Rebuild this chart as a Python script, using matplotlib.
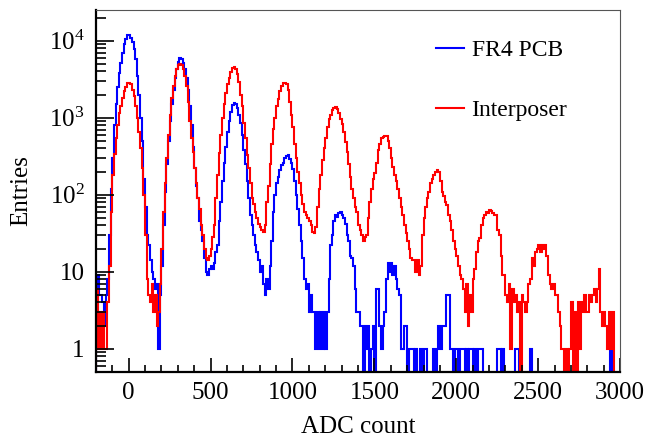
import numpy as np
import matplotlib
matplotlib.use("Agg")
import matplotlib.pyplot as plt
from matplotlib.ticker import FixedLocator, MultipleLocator, NullFormatter

# histogram binning: 320 bins of 10 ADC from -200 to 3000
edges = np.linspace(-200, 3000, 321)

# one row = 32 bins = 320 ADC counts
fr4_pcb = [
    3, 9, 5, 5, 4, 2, 5, 8, 30, 120, 300, 800, 1500, 2500, 3800, 5200,
    7000, 9000, 10500, 11800, 12000, 11000, 9500, 7800, 5800, 3500, 2000, 1000, 500, 160, 70, 30,
    22, 14, 10, 8, 6, 7, 1, 5, 12, 40, 110, 250, 500, 900, 1500, 2300,
    3300, 4300, 5300, 5900, 5800, 5200, 4300, 3300, 2300, 1400, 800, 420, 220, 130, 90, 45,
    35, 25, 15, 10, 9, 11, 12, 11, 13, 18, 22, 45, 80, 150, 260, 420,
    650, 900, 1200, 1450, 1550, 1520, 1350, 1100, 850, 600, 380, 250, 150, 90, 55, 40,
    30, 22, 18, 14, 10, 12, 7, 5, 8, 6, 12, 25, 60, 100, 140, 170,
    210, 240, 260, 300, 320, 330, 290, 260, 215, 150, 100, 65, 40, 25, 15, 8,
    6, 7, 3, 5, 3, 3, 1, 3, 1, 3, 1, 3, 1, 3, 8, 22,
    30, 45, 55, 52, 58, 60, 55, 50, 42, 30, 25, 16, 15, 12, 6, 3,
    3, 2, 2, 0, 2, 1, 2, 0, 1, 2, 0, 6, 6, 2, 1, 2,
    3, 8, 13, 10, 13, 9, 12, 8, 6, 5, 1, 1, 2, 2, 0, 1,
    1, 1, 0, 1, 0, 0, 1, 0, 1, 1, 0, 0, 0, 0, 1, 0,
    1, 2, 1, 2, 2, 2, 5, 5, 1, 1, 0, 1, 1, 0, 1, 1,
    1, 0, 1, 0, 1, 1, 0, 1, 0, 1, 1, 1, 0, 0, 0, 0,
    0, 0, 0, 0, 0, 1, 1, 0, 1, 0, 0, 0, 0, 0, 0, 0,
    1, 1, 0, 0, 0, 0, 0, 0, 0, 1, 0, 0, 0, 0, 0, 0,
    0, 0, 0, 0, 0, 0, 0, 0, 0, 0, 0, 0, 0, 0, 0, 0,
    0, 0, 0, 0, 0, 0, 0, 0, 0, 0, 0, 0, 0, 0, 0, 0,
    0, 0, 0, 0, 0, 0, 0, 0, 0, 0, 1, 0, 0, 0, 0, 0,
]

interposer = [
    6, 1, 3, 1, 3, 1, 1, 4, 12, 60, 180, 340, 550, 800, 1150, 1400,
    1800, 2200, 2500, 2800, 2850, 2700, 2300, 1900, 1400, 1000, 650, 400, 220, 100, 30, 8,
    5, 4, 7, 3, 5, 2, 3, 7, 20, 60, 140, 300, 600, 1100, 1800, 2600,
    3500, 4300, 4800, 4950, 4900, 4300, 3500, 2600, 1600, 900, 550, 360, 220, 140, 90, 65,
    40, 30, 20, 15, 14, 16, 20, 28, 40, 90, 180, 350, 600, 1000, 1500, 2100,
    2700, 3300, 3900, 4400, 4500, 4300, 3700, 2900, 2000, 1400, 850, 550, 330, 220, 140, 90,
    75, 60, 50, 42, 38, 35, 33, 40, 80, 130, 250, 450, 720, 1000, 1400, 1750,
    2200, 2600, 2800, 2850, 2700, 2300, 1600, 1100, 750, 450, 300, 200, 140, 100, 75, 60,
    55, 50, 45, 40, 33, 32, 38, 70, 120, 180, 280, 400, 550, 750, 950, 1100,
    1250, 1350, 1380, 1300, 1150, 950, 820, 650, 480, 360, 250, 170, 120, 90, 70, 60,
    40, 35, 30, 25, 28, 30, 50, 80, 120, 160, 190, 260, 380, 450, 540, 560,
    580, 570, 500, 400, 300, 230, 180, 150, 120, 90, 70, 55, 40, 32, 25, 20,
    15, 14, 14, 10, 14, 9, 12, 30, 50, 70, 90, 110, 140, 160, 180, 195,
    210, 200, 150, 110, 95, 80, 74, 55, 45, 35, 25, 20, 16, 12, 9, 8,
    6, 3, 7, 2, 5, 3, 8, 11, 18, 25, 27, 40, 50, 55, 60, 58,
    63, 62, 58, 55, 55, 35, 30, 16, 9, 9, 5, 4, 7, 1, 6, 4,
    5, 3, 4, 0, 5, 4, 3, 4, 7, 8, 15, 12, 18, 20, 22, 18,
    22, 20, 22, 16, 9, 7, 6, 7, 5, 5, 3, 2, 1, 1, 0, 1,
    0, 1, 4, 0, 3, 0, 4, 1, 4, 3, 5, 3, 3, 5, 4, 5,
    6, 4, 6, 11, 3, 2, 3, 2, 1, 3, 1, 3, 0, 0, 0, 0,
]

ytick_values = [1, 10, 100, 1000, 10000]
ytick_labels = ["1", "10", "$10^{2}$", "$10^{3}$", "$10^{4}$"]

plt.rcParams["font.family"] = ["Liberation Serif", "DejaVu Serif"]
plt.rcParams["mathtext.fontset"] = "custom"
plt.rcParams["mathtext.rm"] = "Liberation Serif"
plt.rcParams["mathtext.it"] = "Liberation Serif:italic"

fig = plt.figure(figsize=(6.48, 4.37), dpi=100)
ax = fig.add_axes([0.148, 0.149, 0.809, 0.828])

ax.stairs(fr4_pcb, edges, color="#0000ff", lw=1.5, label="FR4 PCB")
ax.stairs(interposer, edges, color="#ff0000", lw=1.5, label="Interposer")

ax.set_yscale("log", nonpositive="clip")
ax.set_xlim(-200, 3000)
ax.set_ylim(0.5, 25000)

ax.xaxis.set_major_locator(MultipleLocator(500))
ax.xaxis.set_minor_locator(MultipleLocator(100))
ax.yaxis.set_major_locator(FixedLocator(ytick_values))
ax.set_yticklabels(ytick_labels)
ax.yaxis.set_minor_formatter(NullFormatter())

ax.tick_params(which="both", direction="in", top=False, right=False, labelsize=18, width=1.2)
ax.tick_params(axis="x", which="major", length=10, pad=7)
ax.tick_params(axis="x", which="minor", length=5)
ax.tick_params(axis="y", which="major", length=13, pad=8)
ax.tick_params(axis="y", which="minor", length=7)

for s in ["left", "bottom"]:
    ax.spines[s].set_linewidth(1.6)
for s in ["top", "right"]:
    ax.spines[s].set_linewidth(0.8)
    ax.spines[s].set_color("#555555")

ax.set_xlabel("ADC count", fontsize=18, labelpad=9)
ax.set_ylabel("Entries", fontsize=18, labelpad=12)

ax.legend(loc="upper left", bbox_to_anchor=(0.649, 0.918), frameon=False, fontsize=17,
          borderpad=0, borderaxespad=0, labelspacing=1.62, handlelength=1.2, handletextpad=0.3)

fig.savefig("out.png", dpi=100)
